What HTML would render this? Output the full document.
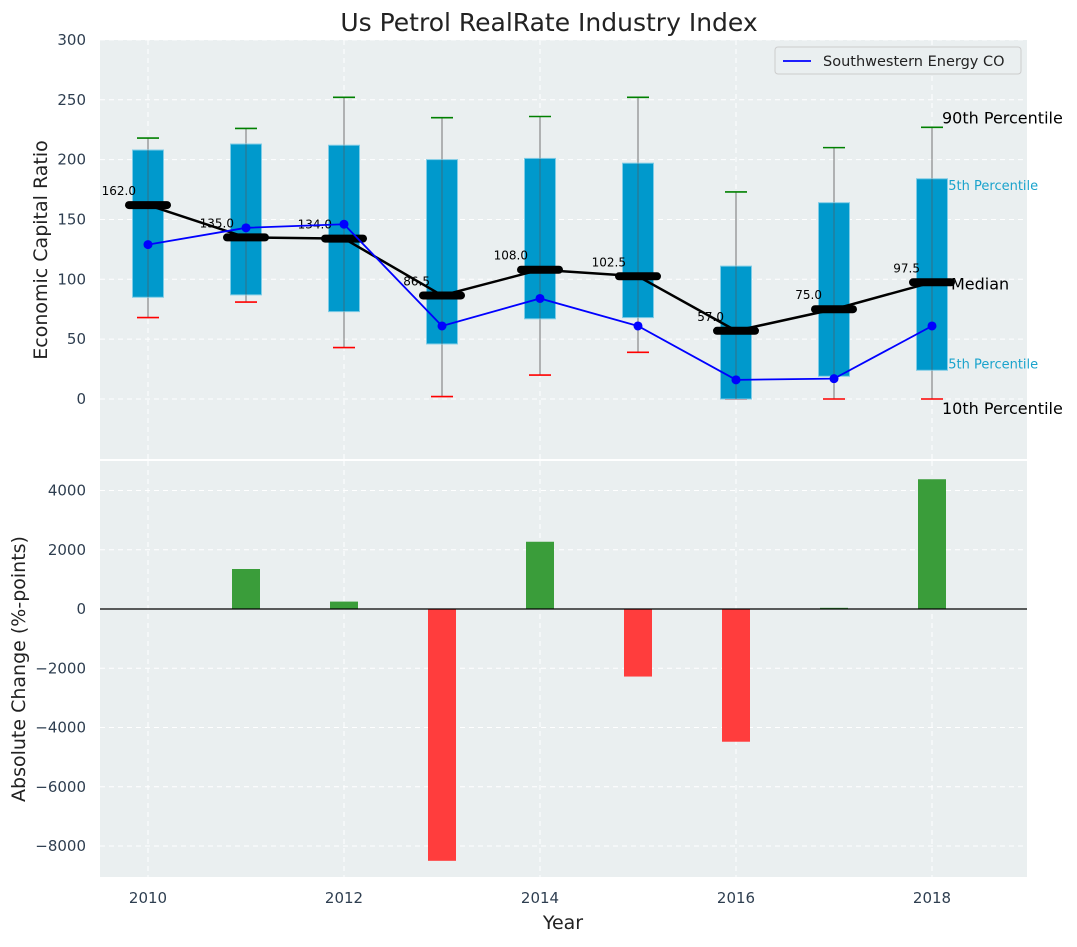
<!DOCTYPE html>
<html><head><meta charset="utf-8"><style>
body{margin:0;background:#fff;font-family:"Liberation Sans","DejaVu Sans",sans-serif}
svg text{font-family:"DejaVu Sans","Liberation Sans",sans-serif}
</style></head><body>
<svg id="chart" width="1077" height="942" xmlns="http://www.w3.org/2000/svg"></svg>
<script>
const years=[2010,2011,2012,2013,2014,2015,2016,2017,2018];
const p10=[68,81,43,2,20,39,0,0,0];
const q25=[85,87,73,46,67,68,0,19,24];
const medians=[162,135,134,86.5,108,102.5,57,75,97.5];
const q75=[208,213,212,200,201,197,111,164,184];
const p90=[218,226,252,235,236,252,173,210,227];
const company=[129,143,146,61,84,61,16,17,61];
const changes=[0,1350,250,-8500,2270,-2280,-4480,40,4380];
const yTicksTop=[0,50,100,150,200,250,300];
const yTicksBot=[-8000,-6000,-4000,-2000,0,2000,4000];
const xTicks=[2010,2012,2014,2016,2018];

const NS="http://www.w3.org/2000/svg";
const svg=document.getElementById('chart');
function el(t,a,p){const e=document.createElementNS(NS,t);for(const k in a)e.setAttribute(k,a[k]);(p||svg).appendChild(e);return e;}
const X=v=>148+(v-2010)*98;
const YT=v=>399-v*1.197;
const YB=v=>609-v*0.029625;
const L=100,R=1027;
let bg1=el('rect',{x:L,y:40,width:R-L,height:419,fill:'#eaeff0'});

let bg2=el('rect',{x:L,y:461,width:R-L,height:416,fill:'#eaeff0'});

for(const t of yTicksTop){el('line',{x1:L,x2:R,y1:YT(t),y2:YT(t),stroke:'#fff','stroke-dasharray':'5,4'});
 const tx=el('text',{x:86,y:YT(t)+5,'text-anchor':'end','font-size':15,fill:'#2e3e50'});tx.textContent=t;
 }
for(const t of yTicksBot){el('line',{x1:L,x2:R,y1:YB(t),y2:YB(t),stroke:'#fff','stroke-dasharray':'5,4'});
 const tx=el('text',{x:86,y:YB(t)+5,'text-anchor':'end','font-size':15,fill:'#2e3e50'});tx.textContent=(t<0?'\u2212'+(-t):t);
 }
for(const t of xTicks){el('line',{x1:X(t),x2:X(t),y1:40,y2:459,stroke:'#fff','stroke-dasharray':'5,4'});
 el('line',{x1:X(t),x2:X(t),y1:461,y2:877,stroke:'#fff','stroke-dasharray':'5,4'});
 const tx=el('text',{x:X(t),y:903,'text-anchor':'middle','font-size':15,fill:'#2e3e50'});tx.textContent=t;
 }
const i8=8;
function ann(txt,x,y,size,col,name){const t=el('text',{x:x,y:y,'font-size':size,fill:col});t.textContent=txt;}
ann('75th Percentile',X(years[i8])+8,YT(q75[i8])+11,13,'#1aa3cc','annotation-75th');
ann('25th Percentile',X(years[i8])+8,YT(q25[i8])-2,13,'#1aa3cc','annotation-25th');
years.forEach((y,i)=>{
 const x=X(y);
 const w=el('line',{x1:x,x2:x,y1:YT(p10[i]),y2:YT(p90[i]),stroke:'#888','stroke-width':1.2});
 
 const c1=el('line',{x1:x-11,x2:x+11,y1:YT(p90[i]),y2:YT(p90[i]),stroke:'green','stroke-width':1.6});
 
 const c2=el('line',{x1:x-11,x2:x+11,y1:YT(p10[i]),y2:YT(p10[i]),stroke:'red','stroke-width':1.6});
 
 const b=el('rect',{x:x-15.5,y:YT(q75[i]),width:31,height:YT(q25[i])-YT(q75[i]),fill:'#0099cc',stroke:'#7fcce6','stroke-width':1});
 
 el('line',{x1:x,x2:x,y1:YT(q25[i]),y2:YT(q75[i]),stroke:'#555','stroke-width':1,'stroke-opacity':0.6});
});
let mp=years.map((y,i)=>X(y)+','+YT(medians[i])).join(' ');
const ml=el('polyline',{points:mp,fill:'none',stroke:'#000','stroke-width':2.5});

years.forEach((y,i)=>{
 const m=el('line',{x1:X(y)-19,x2:X(y)+19,y1:YT(medians[i]),y2:YT(medians[i]),stroke:'#000','stroke-width':8,'stroke-linecap':'round'});
 
 const t=el('text',{x:X(y)-12,y:YT(medians[i])-10,'text-anchor':'end','font-size':12,fill:'#000'});t.textContent=medians[i].toFixed(1);
 
});
let cp=years.map((y,i)=>X(y)+','+YT(company[i])).join(' ');
const cl=el('polyline',{points:cp,fill:'none',stroke:'#0000ff','stroke-width':1.8});

years.forEach((y,i)=>{const d=el('circle',{cx:X(y),cy:YT(company[i]),r:4.5,fill:'#0000ff'});
 });
ann('90th Percentile',942,YT(p90[i8])-4,16,'#000','annotation-90th');
ann('Median',951,YT(medians[i8])+7,16,'#000','annotation-median');
ann('10th Percentile',942,YT(p10[i8])+15,16,'#000','annotation-10th');
const lg=el('g',{});
el('rect',{x:775,y:47,width:246,height:27,rx:3,fill:'#eaeff0',stroke:'#ccc'},lg);
el('line',{x1:783,x2:811,y1:61,y2:61,stroke:'#0000ff','stroke-width':1.8},lg);
const lt=el('text',{x:823,y:66,'font-size':14.5,fill:'#222'},lg);lt.textContent='Southwestern Energy CO';
years.forEach((y,i)=>{const v=changes[i];if(v===0)return;
 const y0=YB(Math.max(v,0)),y1=YB(Math.min(v,0));
 const r=el('rect',{x:X(y)-14,y:y0,width:28,height:y1-y0,fill:v>=0?'#3a9d3a':'#ff3d3d'});
 });
el('line',{x1:L,x2:R,y1:YB(0),y2:YB(0),stroke:'#000','stroke-width':1.2});
function txt(s,a,name){const t=el('text',a);t.textContent=s;}
txt('Us Petrol RealRate Industry Index',{x:549,y:31,'text-anchor':'middle','font-size':25,fill:'#222'},'chart-title');
txt('Year',{x:563,y:929,'text-anchor':'middle','font-size':19,fill:'#222'},'x-axis-title');
txt('Economic Capital Ratio',{x:0,y:0,transform:'translate(47,250) rotate(-90)','text-anchor':'middle','font-size':19,fill:'#222'},'y-axis-title-top');
txt('Absolute Change (%-points)',{x:0,y:0,transform:'translate(25,669) rotate(-90)','text-anchor':'middle','font-size':19,fill:'#222'},'y-axis-title-bottom');
</script>
</body></html>
